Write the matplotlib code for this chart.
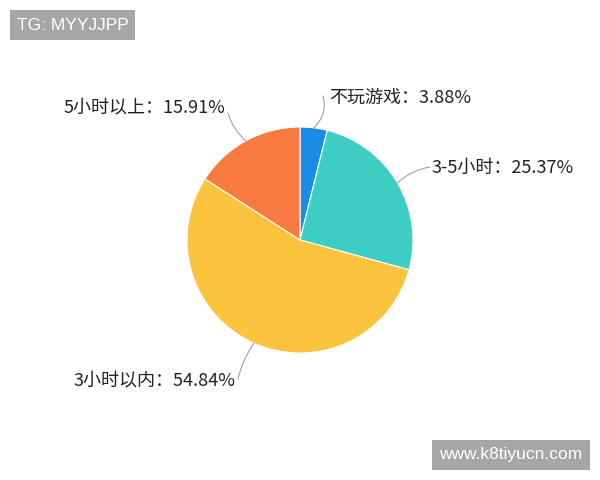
import numpy as np
import matplotlib
matplotlib.use("Agg")
import matplotlib.pyplot as plt
from matplotlib.patches import Rectangle

plt.rcParams['font.family'] = ['Noto Sans CJK SC', 'DejaVu Sans']

categories = ["不玩游戏", "3-5小时", "3小时以内", "5小时以上"]
values = [3.88, 25.37, 54.84, 15.91]
colors = ["#1a8ce6", "#3ecdc3", "#fcc33d", "#f97a40"]

W, H = 600, 480
fig = plt.figure(figsize=(6, 4.8), dpi=100)
ax = fig.add_axes([0, 0, 1, 1])

cx, cy, R = 300, H - 240, 113
wedges, _ = ax.pie(values, startangle=90, counterclock=False, colors=colors,
                   center=(cx, cy), radius=R,
                   wedgeprops=dict(edgecolor="white", linewidth=0.8))
ax.set_xlim(0, W)
ax.set_ylim(0, H)
ax.set_aspect('equal')
ax.axis('off')

# label layout (pixel coords, y from top)
label_pos = [(329, 98, 'left'), (432, 168, 'left'), (236, 380, 'right'), (225, 107, 'right')]
line_end = [(323, 96), (430, 167), (238, 379), (228, 113)]
rads = [-0.3, 0.15, -0.1, 0.15]

cum = 0.0
for i, (cat, v) in enumerate(zip(categories, values)):
    mid = 90 - (cum + v / 2) * 3.6
    cum += v
    ex = cx + R * np.cos(np.radians(mid))
    ey = cy + R * np.sin(np.radians(mid))
    lx, ly = line_end[i]
    ax.annotate('', xy=(ex, ey), xytext=(lx, H - ly),
                arrowprops=dict(arrowstyle='-', color='#a0a0a0', lw=0.8,
                                shrinkA=0, shrinkB=0,
                                connectionstyle=f'arc3,rad={rads[i]}'))
    tx, ty, ha = label_pos[i]
    ax.text(tx, H - ty, f"{cat}：{v:.2f}%", ha=ha, va='center',
            fontsize=13, color='#222222')

# watermark boxes
ax.add_patch(Rectangle((10, H - 40), 125, 30, facecolor='#a6a6a6', edgecolor='none'))
ax.text(72.5, H - 25, "TG: MYYJJPP", ha='center', va='center', color='white', fontsize=12.5,
        family=['Liberation Sans', 'DejaVu Sans'])
ax.add_patch(Rectangle((432, H - 470), 158, 30, facecolor='#a6a6a6', edgecolor='none'))
ax.text(511, H - 455, "www.k8tiyucn.com", ha='center', va='center', color='white', fontsize=12.5,
        family=['Liberation Sans', 'DejaVu Sans'])

fig.savefig("out.png", dpi=100)
